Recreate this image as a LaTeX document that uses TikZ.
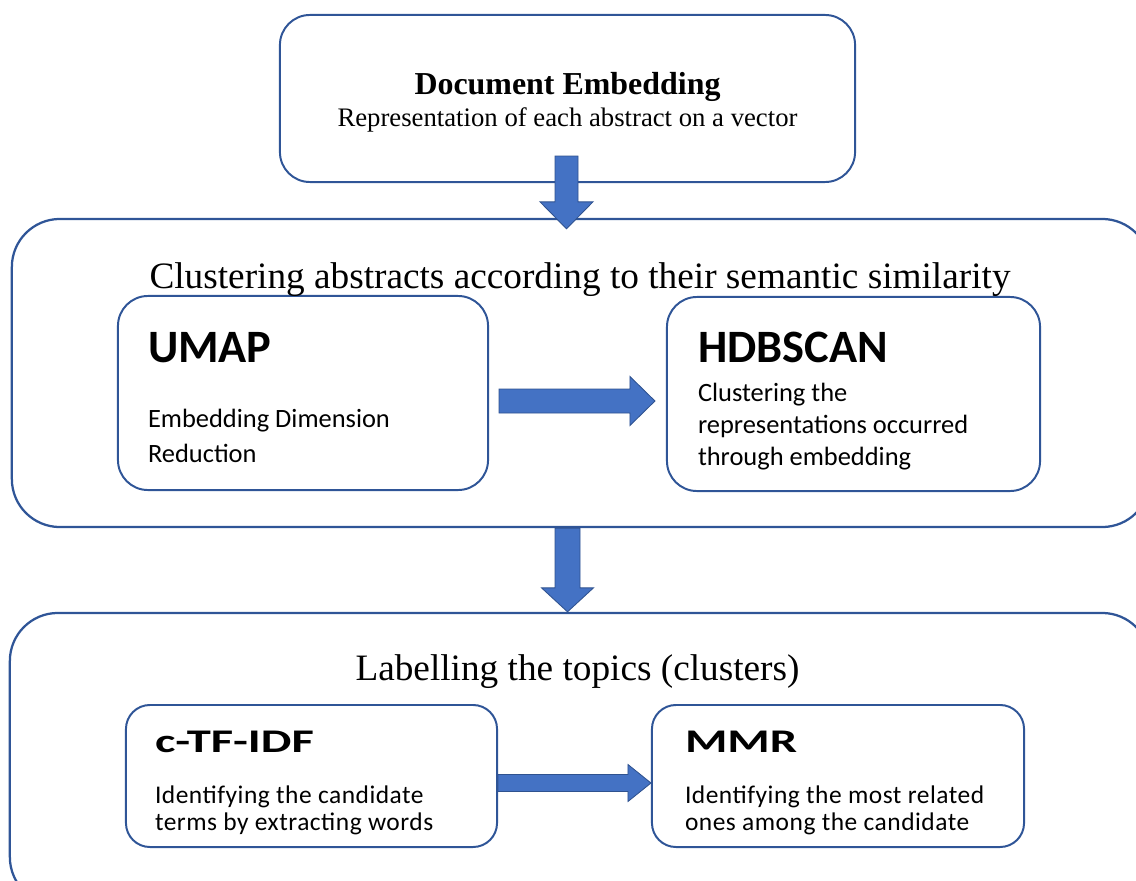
\documentclass[tikz,border=0pt]{standalone}
\usepackage{fontspec}
\setmainfont{Liberation Serif}
\newfontfamily\calibri{Carlito}
\newfontfamily\calibrisp[LetterSpace=2]{Carlito}
\usetikzlibrary{calc}
\definecolor{boxblue}{RGB}{47,85,151}
\definecolor{arrfill}{RGB}{68,114,196}
\definecolor{arrline}{RGB}{47,82,143}

\begin{document}
\begin{tikzpicture}[x=0.025cm,y=-0.025cm,
  bigbox/.style={draw=boxblue, line width=1.6pt, rectangle, rounded corners=1.2cm},
  smallbox/.style={draw=boxblue, line width=1.4pt, rectangle, rounded corners=0.75cm},
  lowbox/.style={smallbox, rounded corners=0.6cm},
  txt/.style={inner sep=0pt, outer sep=0pt},
  head/.style={txt, anchor=base west, font=\calibri\bfseries\fontsize{33}{40}\selectfont},
  lowhead/.style={txt, anchor=base west, font=\calibri\bfseries\fontsize{23.5}{28}\selectfont},
  desc/.style={txt, anchor=base west, align=left},
  arrshaft/.store in=\arrshaft, arrhead/.store in=\arrhead, arrlen/.store in=\arrlen,
  arrshaft=0.3cm, arrhead=0.6cm, arrlen=0.6cm,
  blockarrow/.style={draw=arrline, fill=arrfill, line width=0.6pt, line join=miter,
    to path={
      ($(\tikztostart)!\arrshaft!90:(\tikztotarget)$)
      -- ($($(\tikztotarget)!\arrlen!(\tikztostart)$)!\arrshaft!90:(\tikztotarget)$)
      -- ($($(\tikztotarget)!\arrlen!(\tikztostart)$)!\arrhead!90:(\tikztotarget)$)
      -- (\tikztotarget)
      -- ($($(\tikztotarget)!\arrlen!(\tikztostart)$)!\arrhead!-90:(\tikztotarget)$)
      -- ($($(\tikztotarget)!\arrlen!(\tikztostart)$)!\arrshaft!-90:(\tikztotarget)$)
      -- ($(\tikztostart)!\arrshaft!-90:(\tikztotarget)$)
      -- cycle}}]
      \useasboundingbox (0,0) rectangle (1136,880);
      \clip (0,0) rectangle (1136,880);
      \node[smallbox, minimum width=14.375cm, minimum height=4.175cm] at (567.5,98.5) (emb) {};
      \node[bigbox, minimum width=28.45cm, minimum height=7.7cm] at (581,373) (clu) {};
      \node[bigbox, minimum width=28.5cm, minimum height=7.3cm] at (580,759) (lab) {};
      \node[smallbox, minimum width=9.25cm, minimum height=4.85cm] at (303,393) (umap) {};
      \node[smallbox, minimum width=9.325cm, minimum height=4.85cm] at (853.5,394) (hdb) {};
      \node[lowbox, minimum width=9.275cm, minimum height=3.55cm] at (311.5,776) (ctf) {};
      \node[lowbox, minimum width=9.3cm, minimum height=3.55cm] at (838,776) (mmr) {};
      \node[txt, anchor=base, font=\bfseries\fontsize{22.7}{27}\selectfont] at (567.5,95) (embt) {Document Embedding};
      \node[txt, anchor=base, font=\fontsize{19}{23}\selectfont] at (567.5,126.7) (embs) {Representation of each abstract on a vector};
      \node[txt, anchor=base, font=\fontsize{26.5}{32}\selectfont] at (580,288) (clut) {Clustering abstracts according to their semantic similarity};
      \node[txt, anchor=base, font=\fontsize{26.5}{32}\selectfont] at (577.5,680.7) (labt) {Labelling the topics (clusters)};
      \node[head] at (148,362.7) (umapt) {UMAP};
      \node[desc, font=\calibri\fontsize{18.8}{24.9}\selectfont] at (148,462.7) (umapd) {Embedding Dimension\\Reduction};
      \node[head] at (698,362.7) (hdbt) {HDBSCAN};
      \node[desc, font=\calibri\fontsize{18.8}{22.8}\selectfont] at (698,465.7) (hdbd) {Clustering the\\representations occurred\\through embedding};
      \node[lowhead] at (155,752) (ctft) {\scalebox{1.47}[1]{c-TF-IDF}};
      \node[desc, font=\calibrisp\fontsize{18.1}{18.5}\selectfont] at (155,830) (ctfd) {Identifying the candidate\\terms by extracting words};
      \node[lowhead] at (685,752) (mmrt) {\scalebox{1.47}[1]{MMR}};
      \node[desc, font=\calibrisp\fontsize{18.1}{18.5}\selectfont] at (685,830) (mmrd) {Identifying the most related\\ones among the candidate};
      \draw[blockarrow, arrshaft=0.2875cm, arrhead=0.6625cm, arrlen=0.675cm] ($(emb.south)+(-1,-27)$) to ($(emb.south |- clu.north)+(-1,11)$);
      \draw[blockarrow, arrshaft=0.3cm, arrhead=0.6125cm, arrlen=0.625cm] ($(umap.east)+(10,8)$) to ($(hdb.west)+(-11,7)$);
      \draw[blockarrow, arrshaft=0.3125cm, arrhead=0.65cm, arrlen=0.6cm] (emb.south |- clu.south) to (emb.south |- lab.north);
      \draw[blockarrow, arrshaft=0.2125cm, arrhead=0.4625cm, arrlen=0.575cm] ($(ctf.east)+(0,7)$) to ($(mmr.west)+(0,7)$);
\end{tikzpicture}
\end{document}
